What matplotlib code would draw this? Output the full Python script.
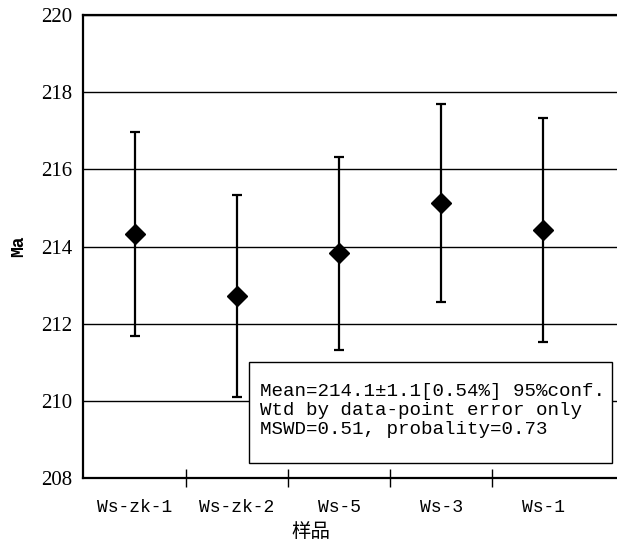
import matplotlib
matplotlib.use("Agg")
import matplotlib.pyplot as plt
from matplotlib.patches import Rectangle

# ── data ──────────────────────────────────────────────────────────────────────

samples = ["Ws-zk-1", "Ws-zk-2", "Ws-5", "Ws-3", "Ws-1"]
ages    = [214.32, 212.71, 213.82, 215.12, 214.43]   # Ma
errors  = [2.65, 2.62, 2.49, 2.57, 2.91]             # 2σ
y_ticks = [208, 210, 212, 214, 216, 218, 220]

stats_lines = [
    "Mean=214.1\u00b11.1[0.54%] 95%conf.",
    "Wtd by data-point error only",
    "MSWD=0.51, probality=0.73",
]

# ── plot ──────────────────────────────────────────────────────────────────────

fig = plt.figure(figsize=(6.17, 5.43), dpi=100)
ax = fig.add_axes([83 / 617, 1 - 478 / 543, 1 - 83 / 617, (478 - 15) / 543])

x = list(range(1, len(samples) + 1))
ax.errorbar(x, ages, yerr=errors, fmt="D", color="black", markersize=10.5,
            elinewidth=1.6, capsize=3.5, capthick=1.6, zorder=3)

ax.set_xlim(0.49, 5.725)
ax.set_ylim(208, 220)

ax.set_yticks(y_ticks)
ax.set_yticklabels([str(v) for v in y_ticks], family="Liberation Serif", fontsize=15)
ax.tick_params(axis="y", length=0, pad=8)
ax.grid(True, axis="y", color="black", linewidth=1.0)
ax.set_axisbelow(True)

# tick marks sit between samples, labels sit under each sample
ax.set_xticks([i + 0.5 for i in x[:-1]])
ax.set_xticklabels([])
ax.set_xticks(x, minor=True)
ax.set_xticklabels(samples, minor=True, family="Liberation Mono", fontsize=13)
ax.tick_params(axis="x", which="major", direction="inout", length=13, width=1.0)
ax.tick_params(axis="x", which="minor", length=0, pad=15)

for side in ["left", "bottom", "top"]:
    ax.spines[side].set_linewidth(1.6)
ax.spines["right"].set_visible(False)

ax.set_xlabel("样品", family=["Noto Sans CJK SC", "DejaVu Sans"], fontsize=14)
ax.xaxis.set_label_coords((311 - 83) / 534, (478 - 521) / 463)
ax.set_ylabel("Ma", family="Liberation Mono", fontsize=13, fontweight="bold",
              labelpad=10)

# stats box
box_l, box_r = (249 - 83) / 534, (612 - 83) / 534
box_b, box_t = (478 - 463) / 463, (478 - 362) / 463
ax.add_patch(Rectangle((box_l, box_b), box_r - box_l, box_t - box_b,
                       transform=ax.transAxes, facecolor="white",
                       edgecolor="black", linewidth=1.0, zorder=4))
for i, line in enumerate(stats_lines):
    yy = (478 - (392 + 18.7 * i)) / 463
    ax.text((260 - 83) / 534, yy, line, transform=ax.transAxes,
            family="Liberation Mono", fontsize=13.8, va="center", ha="left",
            zorder=5)

fig.savefig("out.png", dpi=100)
